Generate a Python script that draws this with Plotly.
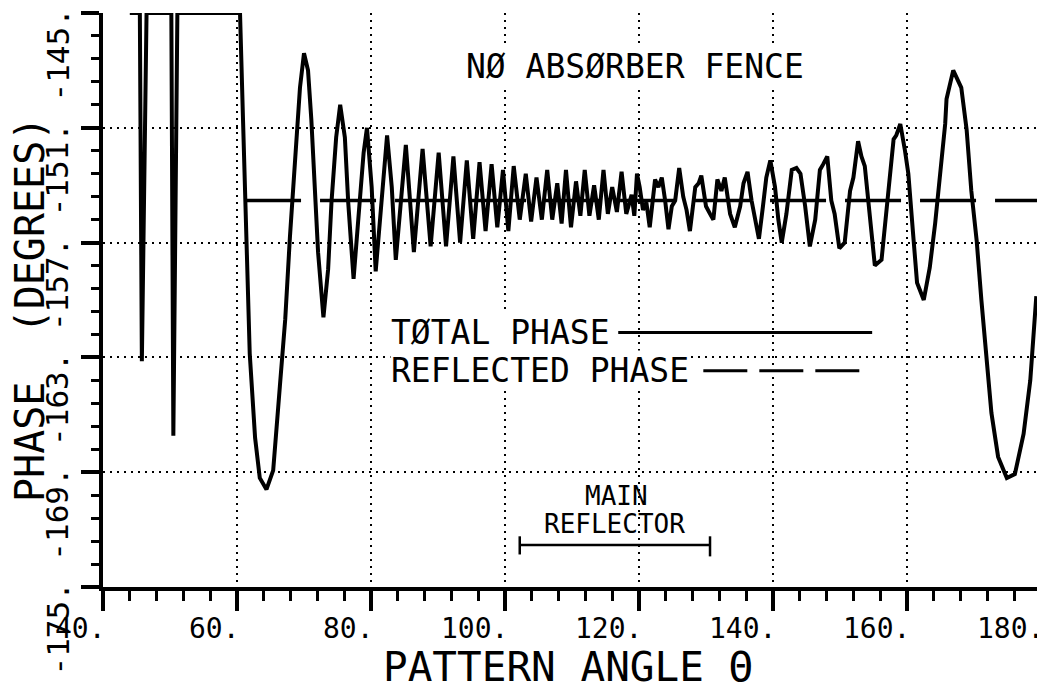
import plotly.graph_objects as go

# ---------------- data ----------------
TOTAL_X = [44.0, 45.5, 45.8, 46.5, 50.2, 50.5, 51.1, 60.45, 60.9, 61.4, 61.9, 62.7, 63.4, 64.4,
           65.4, 66.4, 67.2, 67.9, 68.4, 68.9, 69.4, 70.0, 70.6, 71.1, 71.6, 72.1, 72.9, 73.6,
           74.1, 74.8, 75.4, 76.1, 76.6, 77.4, 78.1, 78.9, 79.4, 80.1, 80.7, 81.6, 82.4, 83.1,
           83.7, 85.2, 86.4, 87.7, 88.9, 90.1, 91.2, 92.3, 93.3, 94.3, 95.25, 96.2, 97.1, 98.0,
           98.85, 99.7, 100.5, 101.3, 102.2, 103.1, 103.9, 104.7, 105.5, 106.3, 107.05, 107.8,
           108.45, 109.1, 109.85, 110.6, 111.25, 111.9, 112.6, 113.3, 114.0, 114.7, 115.35, 116.0,
           116.7, 117.4, 118.1, 118.9, 119.3, 119.7, 120.1, 120.6, 121.1, 121.6, 122.4, 122.9,
           123.4, 123.9, 124.4, 124.9, 125.4, 126.0, 126.6, 127.1, 127.6, 128.4, 128.9, 129.3,
           130.0, 130.6, 131.1, 131.7, 132.3, 132.8, 133.6, 134.3, 135.1, 135.6, 136.2, 136.8,
           137.3, 137.9, 138.5, 139.0, 139.6, 140.3, 140.8, 141.3, 142.0, 142.8, 143.5, 144.1,
           144.8, 145.5, 146.3, 147.0, 147.5, 148.1, 148.7, 149.2, 149.9, 150.7, 151.5, 152.0,
           152.7, 153.2, 153.7, 154.5, 155.2, 156.2, 157.0, 158.0, 158.4, 159.0, 159.7, 160.2,
           160.9, 161.5, 162.5, 163.4, 164.2, 164.9, 165.7, 165.9, 166.9, 168.1, 168.9, 169.6,
           170.4, 171.1, 171.9, 172.6, 173.6, 174.9, 176.1, 177.4, 178.4, 179.3]
TOTAL_Y = [-145.0, -145.0, -163.2, -145.0, -145.0, -167.1, -145.0, -145.0, -150.6, -157.5, -162.8,
           -167.2, -169.3, -169.9, -168.9, -164.5, -161.0, -156.7, -154.1, -151.1, -148.9, -147.1,
           -148.0, -150.6, -154.1, -157.5, -160.9, -158.4, -154.9, -151.5, -149.8, -151.5, -154.9,
           -158.9, -155.8, -152.3, -151.0, -154.1, -158.5, -154.4, -151.4, -154.1, -157.9, -151.9,
           -157.5, -152.1, -157.2, -152.3, -157.2, -152.5, -157.0, -152.7, -156.8, -152.8, -156.4,
           -152.9, -156.2, -153.2, -156.4, -153.0, -155.8, -153.4, -155.9, -153.6, -155.8, -153.2,
           -155.8, -153.9, -156.0, -153.2, -156.2, -153.8, -155.6, -153.2, -155.6, -154.0, -155.8,
           -153.2, -155.5, -154.1, -155.4, -153.3, -155.5, -154.5, -155.6, -153.4, -154.1, -155.3,
           -154.9, -156.2, -153.7, -154.1, -153.6, -154.8, -156.3, -155.1, -154.8, -153.1, -154.6,
           -155.3, -156.4, -154.1, -153.9, -153.5, -155.1, -155.5, -155.8, -153.7, -154.3, -153.6,
           -155.5, -156.2, -155.1, -153.9, -153.3, -154.8, -155.6, -156.8, -155.1, -153.6, -152.7,
           -154.1, -155.8, -157.0, -155.5, -153.2, -153.1, -153.4, -155.1, -157.2, -155.8, -153.2,
           -152.9, -152.5, -154.8, -155.5, -157.3, -157.0, -154.3, -153.6, -151.7, -152.5, -153.0,
           -155.6, -158.2, -157.9, -155.1, -151.6, -151.4, -150.8, -152.2, -153.4, -156.5, -159.1,
           -160.0, -158.3, -156.0, -153.4, -150.8, -149.5, -148.0, -148.9, -151.1, -154.3, -156.9,
           -160.0, -163.0, -165.9, -168.2, -169.3, -169.1, -167.0, -164.2, -159.8]

REFL_X = [61.2, 180.0]
REFL_Y = [-154.8, -154.8]

X_TICKS = [40, 60, 80, 100, 120, 140, 160, 180]
X_TICK_LABELS = ["40.", "60.", "80.", "100.", "120.", "140.", "160.", "180."]
Y_TICKS = [-175, -169, -163, -157, -151, -145]
Y_TICK_LABELS = ["-175.", "-169.", "-163.", "-157.", "-151.", "-145."]

MAIN_REFLECTOR = [102.2, 130.6]

TITLE_TEXT = "NØ ABSØRBER FENCE"
LEGEND_TEXTS = ["TØTAL PHASE", "REFLECTED PHASE"]
X_TITLE = "PATTERN ANGLE Θ"
Y_TITLE = "PHASE\u00a0 (DEGREES)"

FONT = "DejaVu Sans Mono"

# ---------------- figure ----------------
fig = go.Figure()
fig.add_trace(go.Scatter(x=TOTAL_X, y=TOTAL_Y, mode="lines",
                         line=dict(color="black", width=4), hoverinfo="skip"))
fig.add_trace(go.Scatter(x=REFL_X, y=REFL_Y, mode="lines",
                         line=dict(color="black", width=3.5, dash="56px,19px"), hoverinfo="skip"))

grid_dash = "2px,5px"
fig.update_xaxes(range=[40, 180], tickmode="array", tickvals=X_TICKS, showticklabels=False,
                 ticks="outside", ticklen=20, tickwidth=3.5, tickcolor="black",
                 showline=True, linewidth=3.5, linecolor="black",
                 showgrid=True, gridcolor="black", gridwidth=2, griddash=grid_dash,
                 zeroline=False,
                 minor=dict(tickmode="linear", tick0=40, dtick=4, ticks="outside", ticklen=10,
                            tickwidth=3, tickcolor="black", showgrid=False))
fig.update_yaxes(range=[-175, -145], tickmode="array", tickvals=Y_TICKS, showticklabels=False,
                 ticks="outside", ticklen=18, tickwidth=3.5, tickcolor="black",
                 showline=True, linewidth=3.5, linecolor="black",
                 showgrid=True, gridcolor="black", gridwidth=2, griddash=grid_dash,
                 zeroline=False,
                 minor=dict(tickmode="linear", tick0=-175, dtick=1.2, ticks="outside", ticklen=8,
                            tickwidth=3, tickcolor="black", showgrid=False))

ann = []
for v, t in zip(X_TICKS, X_TICK_LABELS):
    ann.append(dict(x=v, xref="x", y=0, yref="paper", text=t, showarrow=False,
                    xanchor="right", yanchor="middle", xshift=4, yshift=-41, borderpad=0,
                    font=dict(family=FONT, size=28, color="black")))
for v, t in zip(Y_TICKS, Y_TICK_LABELS):
    ann.append(dict(x=0, xref="paper", y=v, yref="y", text=t, showarrow=False, textangle=-90,
                    xanchor="center", yanchor="top", xshift=-46, yshift=5, borderpad=0,
                    font=dict(family=FONT, size=31, color="black")))

ann.append(dict(x=0.4957, xref="paper", y=0, yref="paper", text=X_TITLE, showarrow=False,
                xanchor="center", yanchor="middle", yshift=-80, borderpad=0,
                font=dict(family=FONT, size=41, color="black")))
ann.append(dict(x=0, xref="paper", y=0.4826, yref="paper", text=Y_TITLE, showarrow=False,
                textangle=-90, xanchor="center", yanchor="middle", xshift=-73, borderpad=0,
                font=dict(family=FONT, size=40, color="black")))

ann.append(dict(x=119.4, xref="x", y=-147.8, yref="y", text=TITLE_TEXT, showarrow=False,
                xanchor="center", yanchor="middle", bgcolor="white", borderpad=0,
                font=dict(family=FONT, size=33, color="black")))
ann.append(dict(x=82.8, xref="x", y=-161.7, yref="y", text=LEGEND_TEXTS[0], showarrow=False,
                xanchor="left", yanchor="middle", bgcolor="white", borderpad=0,
                font=dict(family=FONT, size=33, color="black")))
ann.append(dict(x=82.8, xref="x", y=-163.7, yref="y", text=LEGEND_TEXTS[1], showarrow=False,
                xanchor="left", yanchor="middle", bgcolor="white", borderpad=0,
                font=dict(family=FONT, size=33, color="black")))
ann.append(dict(x=116.7, xref="x", y=-170.25, yref="y", text="MAIN", showarrow=False,
                xanchor="center", yanchor="middle", borderpad=0,
                font=dict(family=FONT, size=26, color="black")))
ann.append(dict(x=116.4, xref="x", y=-171.7, yref="y", text="REFLECTOR", showarrow=False,
                xanchor="center", yanchor="middle", borderpad=0,
                font=dict(family=FONT, size=26, color="black")))

shapes = [
    # legend samples
    dict(type="line", xref="x", yref="y", x0=116.9, x1=154.8, y0=-161.7, y1=-161.7,
         line=dict(color="black", width=3)),
    dict(type="line", xref="x", yref="y", x0=129.6, x1=153.3, y0=-163.7, y1=-163.7,
         line=dict(color="black", width=3, dash="44px,12px")),
    # main reflector bracket
    dict(type="line", xref="x", yref="y", x0=MAIN_REFLECTOR[0], x1=MAIN_REFLECTOR[1],
         y0=-172.8, y1=-172.8, line=dict(color="black", width=2.5)),
    dict(type="line", xref="x", yref="y", x0=MAIN_REFLECTOR[0], x1=MAIN_REFLECTOR[0],
         y0=-172.35, y1=-173.3, line=dict(color="black", width=2.5)),
    dict(type="line", xref="x", yref="y", x0=MAIN_REFLECTOR[1], x1=MAIN_REFLECTOR[1],
         y0=-172.35, y1=-173.4, line=dict(color="black", width=2.5)),
]

# page body has an 8px default margin, so the figure is offset by (8, 8)
fig.update_layout(width=1037, height=682, margin=dict(l=95, r=4, t=5, b=103),
                  paper_bgcolor="white", plot_bgcolor="white", showlegend=False,
                  font=dict(family=FONT, color="black"), annotations=ann, shapes=shapes)

fig.write_html("out.html")
